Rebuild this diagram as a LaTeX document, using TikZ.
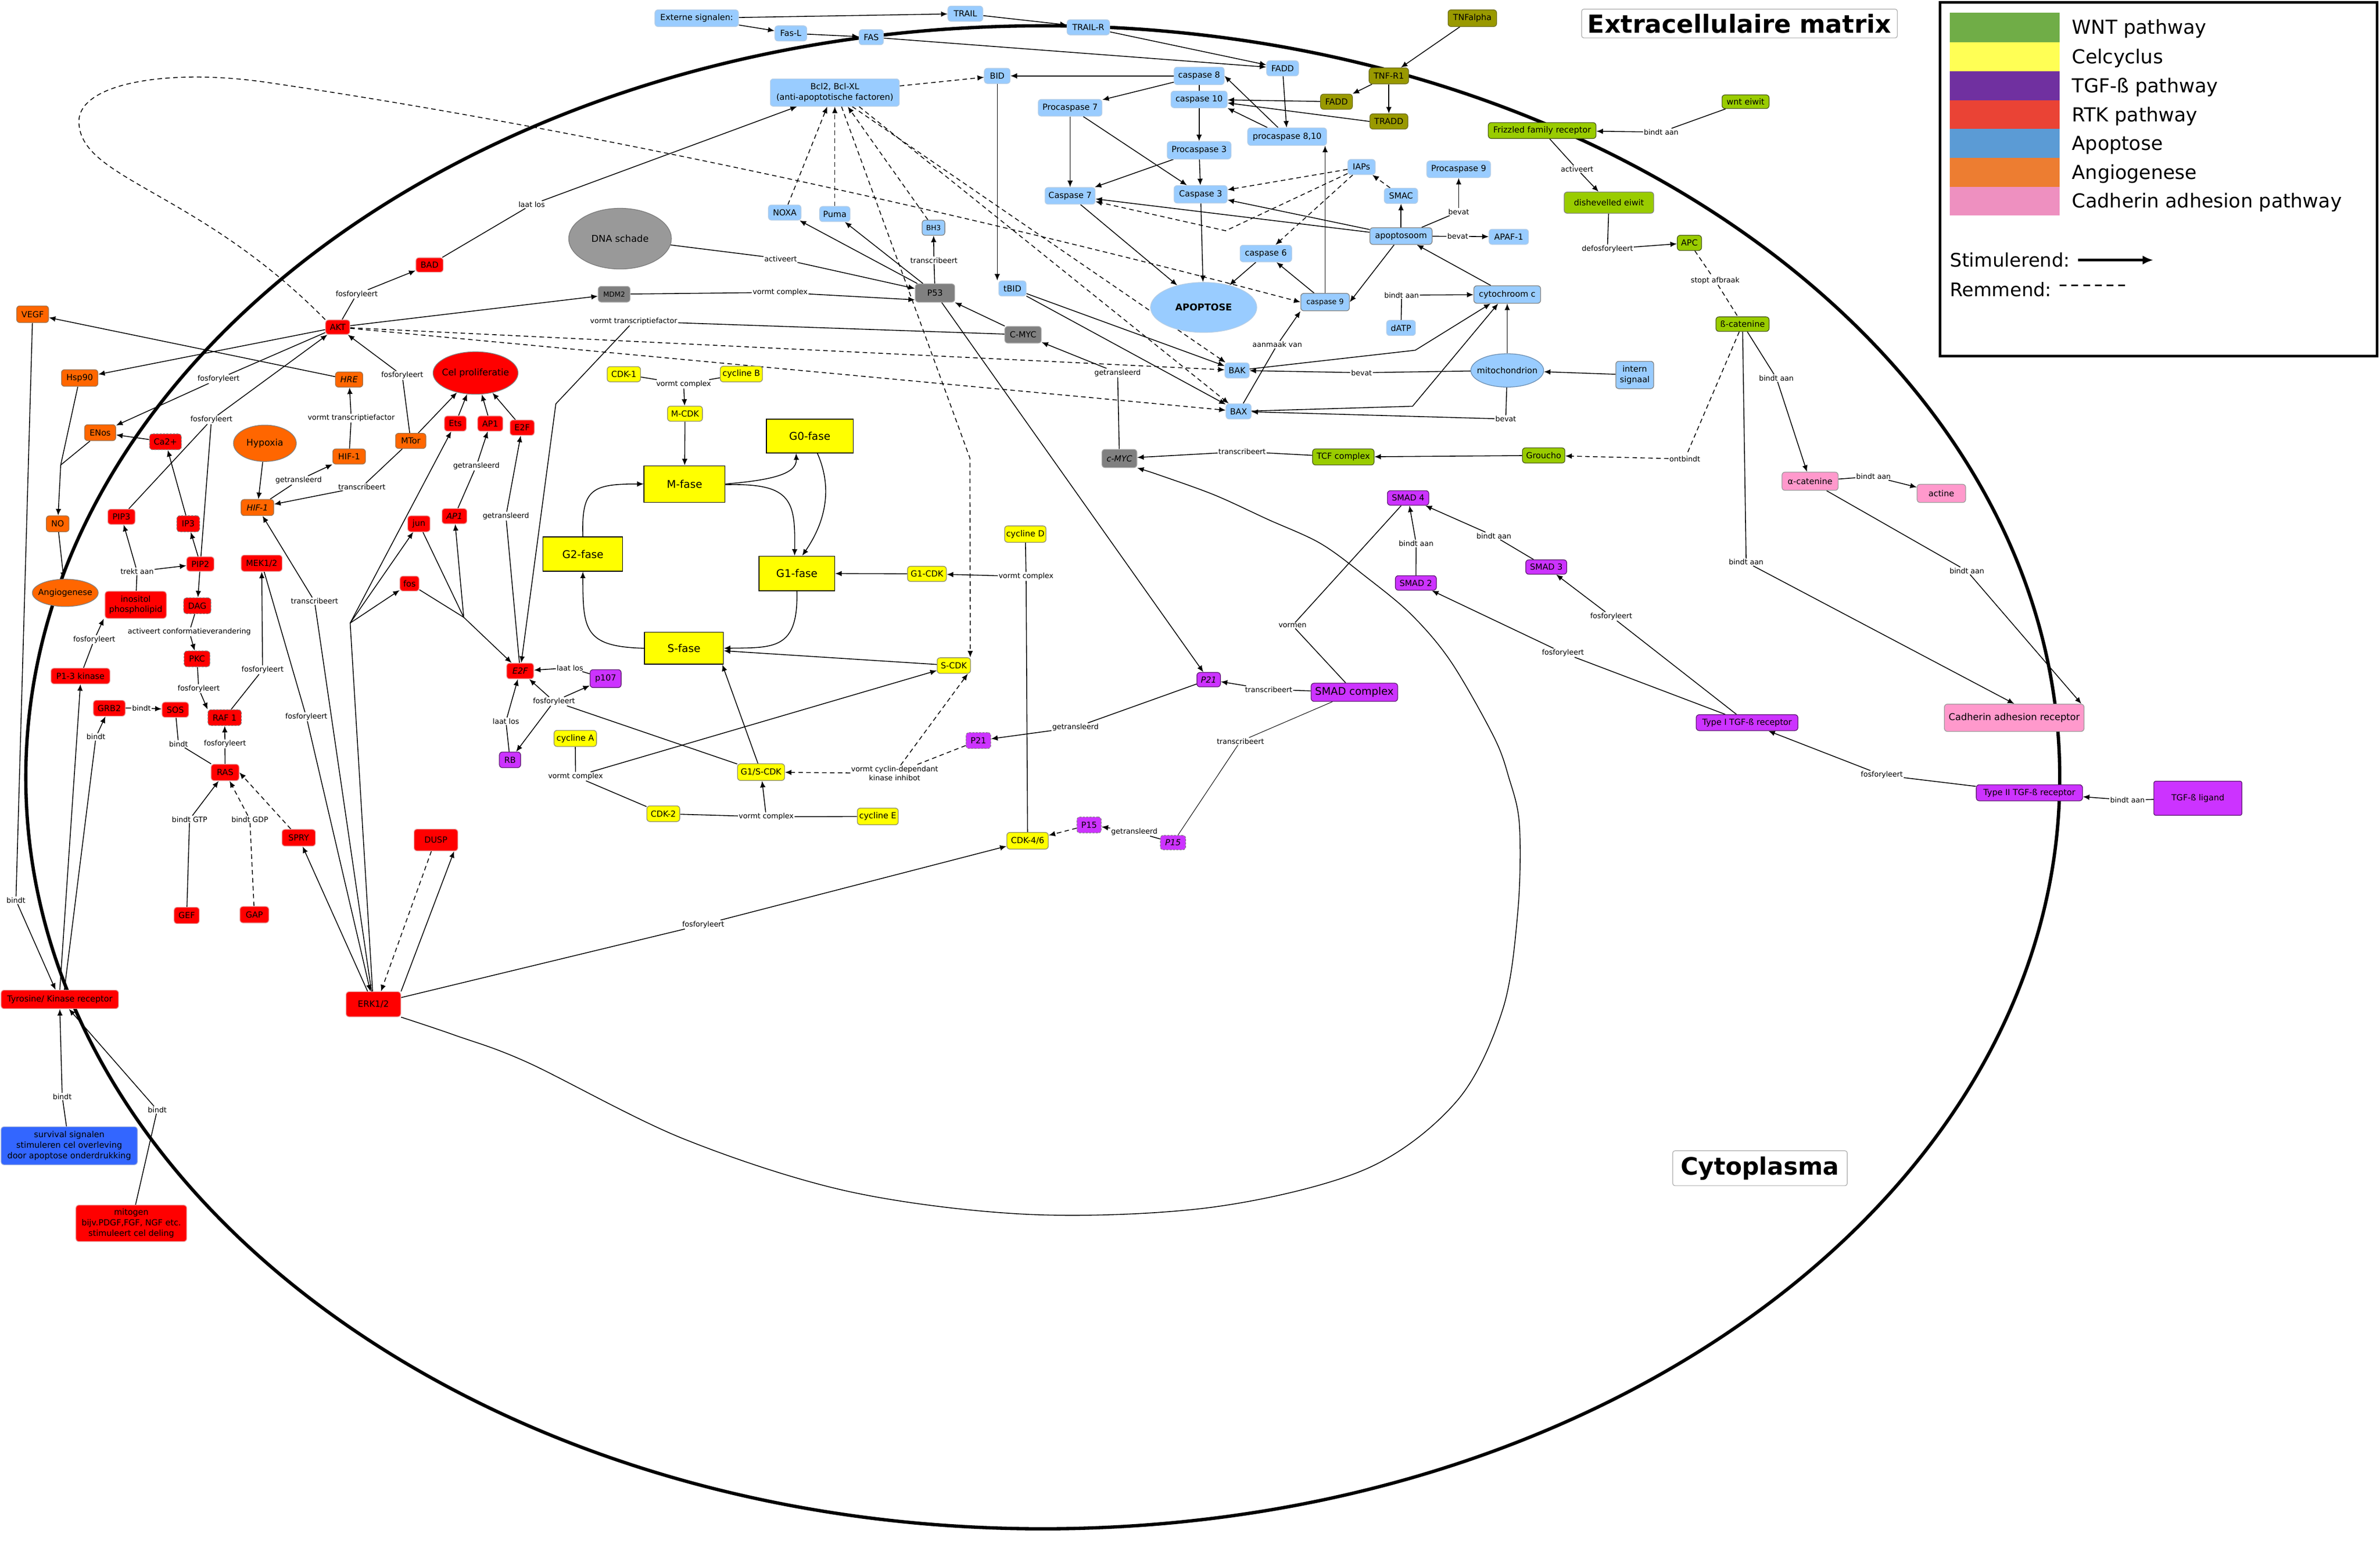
\documentclass[tikz,border=0pt]{standalone}
\usepackage{fontspec}
\setmainfont{DejaVu Sans}
\usetikzlibrary{arrows.meta,shapes.geometric}
\pgfdeclarelayer{bg}
\pgfsetlayers{bg,main}
\definecolor{cRed}{HTML}{FF0000}\definecolor{cRedB}{HTML}{E79A9A}
\definecolor{cOr}{HTML}{FF6600}\definecolor{cOrB}{HTML}{9C7452}
\definecolor{cBl}{HTML}{99CCFF}\definecolor{cBlB}{HTML}{B4CDE6}
\definecolor{cDB}{HTML}{3366FF}\definecolor{cDBB}{HTML}{99AADD}
\definecolor{cYe}{HTML}{FFFF00}\definecolor{cYeB}{HTML}{8C8C6E}
\definecolor{cPu}{HTML}{CC33FF}\definecolor{cPuB}{HTML}{5A1A6E}
\definecolor{cGr}{HTML}{99CC00}\definecolor{cGrB}{HTML}{4A5A1A}
\definecolor{cOl}{HTML}{999900}\definecolor{cOlB}{HTML}{6E6E1E}
\definecolor{cGy}{HTML}{808080}\definecolor{cGyB}{HTML}{A6A6A6}
\definecolor{cPk}{HTML}{FF99CC}\definecolor{cPkB}{HTML}{999999}
\definecolor{cDna}{HTML}{999999}\definecolor{cDnaB}{HTML}{7A7A7A}
\definecolor{cMitoB}{HTML}{6A8CB0}
\definecolor{lWNT}{HTML}{70AD47}\definecolor{lCel}{HTML}{FFFF55}
\definecolor{lTGF}{HTML}{7030A0}\definecolor{lRTK}{HTML}{EA4335}
\definecolor{lApo}{HTML}{5B9BD5}\definecolor{lAng}{HTML}{ED7D31}
\definecolor{lCad}{HTML}{EE90C0}
\newcommand\myfs[2]{\fontsize{#1}{#2}\selectfont}
\tikzset{
 nbase/.style={rounded corners=2pt, inner sep=0.3pt, align=center, line width=0.45pt, font=\myfs{5.5}{6.4}},
 sz/.style 2 args={minimum width=#1, minimum height=#2},
 nR/.style={nbase, fill=cRed, draw=cRedB},
 nO/.style={nbase, fill=cOr, draw=cOrB},
 nB/.style={nbase, fill=cBl, draw=cBlB},
 nDB/.style={nbase, fill=cDB, draw=cDBB},
 nY/.style={nbase, fill=cYe, draw=cYeB},
 nP/.style={nbase, fill=cPu, draw=cPuB},
 nG/.style={nbase, fill=cGr, draw=cGrB},
 nOl/.style={nbase, fill=cOl, draw=cOlB},
 nGy/.style={nbase, fill=cGy, draw=cGyB},
 nPk/.style={nbase, fill=cPk, draw=cPkB},
 nPh/.style={draw=black, fill=cYe, line width=0.5pt, inner sep=0pt, font=\myfs{7}{8}},
 itx/.style={font=\itshape\myfs{5.5}{6.4}},
 dashb/.style={draw=gray, dash pattern=on 1.3pt off 0.9pt},
 ell/.style={ellipse, inner sep=0pt, line width=0.45pt},
 lbl/.style={fill=white, inner sep=0.4pt, font=\myfs{4.8}{5.8}, align=center},
 arr/.style={-{Latex[length=4.3pt,width=3.6pt]}},
 dsh/.style={dash pattern=on 3pt off 2.2pt},
}
\begin{document}
\begin{tikzpicture}[x=1pt,y=-1pt]
\useasboundingbox (0,0) rectangle (1568,1026.9);
% ---------------- apoptosis ----------------
\node[nB, sz={55}{11}] (ext) at (459,12) {Externe signalen:};
\node[nB, sz={21}{10}] (fasl) at (521,22) {Fas-L};
\node[nB, sz={23}{10}] (trail) at (636,9) {TRAIL};
\node[nB, sz={16}{10}] (fas) at (574,24.5) {FAS};
\node[nB, sz={28}{10}] (trailr) at (717,18) {TRAIL-R};
\node[nB, sz={21}{10}] (fadd) at (845,45) {FADD};
\node[nB, sz={17}{10}] (bid) at (657,50) {BID};
\node[nB, sz={33}{11.5}] (cas8) at (790,50) {caspase 8};
\node[nB, sz={85}{18}, font=\myfs{5.5}{7}] (bcl) at (550,61) {Bcl2, Bcl-XL\\(anti-apoptotische factoren)};
\node[nB, sz={37}{11}] (cas10) at (790,65.5) {caspase 10};
\node[nB, sz={42}{11}] (pc7) at (705,71) {Procaspase 7};
\node[nB, sz={52}{11.5}] (pc810) at (848,90) {procaspase 8,10};
\node[nB, sz={42}{11.5}] (pc3) at (790,99) {Procaspase 3};
\node[nB, sz={33}{11}] (c7) at (705,129) {Caspase 7};
\node[nB, sz={35}{11.5}] (c3) at (791,128) {Caspase 3};
\node[nB, sz={21.5}{10}] (noxa) at (517,140) {NOXA};
\node[nB, sz={20}{10}] (puma) at (550,141) {Puma};
\node[nB, sz={15}{10}, draw=gray, font=\myfs{4.7}{5.5}] (bh3) at (615,150) {BH3};
\node[nGy, sz={26}{12}] (p53) at (616,193) {P53};
\node[nB, sz={18}{10}] (tbid) at (667,190) {tBID};
\node[ell, fill=cBl, draw=cBlB, sz={70}{33}, label={[font=\bfseries\myfs{6.2}{7}]center:APOPTOSE}] (apop) at (793,202.5) {};
\node[nB, sz={34}{11}] (cas6) at (834,167) {caspase 6};
\node[nB, sz={32}{11.5}, draw=gray, font=\myfs{4.9}{5.6}] (cas9) at (873,199) {caspase 9};
\node[nB, sz={18}{10}] (iaps) at (897,110) {IAPs};
\node[nB, sz={22}{10}] (smac) at (923,129) {SMAC};
\node[nB, sz={42}{11}] (pc9) at (961,111.5) {Procaspase 9};
\node[nB, sz={41}{11}, draw=gray] (apopt) at (923,155.5) {apoptosoom};
\node[nB, sz={26}{10}] (apaf) at (994,156) {APAF-1};
\node[nB, sz={44}{11.5}, draw=gray] (cytc) at (993,194) {cytochroom c};
\node[nB, sz={19}{10}] (datp) at (923,216) {dATP};
\node[ell, fill=cBl, draw=cMitoB, sz={48}{22}, label={[font=\myfs{5.5}{6.4}]center:mitochondrion}] (mito) at (993,244) {};
\node[nB, sz={25}{18}, draw=gray, font=\myfs{5.5}{7}] (intern) at (1077,247) {intern\\signaal};
\node[nB, sz={16}{10}] (bak) at (815,244) {BAK};
\node[nB, sz={16.5}{10}] (bax) at (816,271) {BAX};
\node[nGy, sz={24}{11}] (cmyc) at (674,220.5) {C-MYC};
\node[nGy, sz={23}{12}, itx] (cmyc2) at (737.5,302) {c-MYC};
\node[nG, sz={40.5}{10.6}] (tcf) at (885,301) {TCF complex};
\node[nG, sz={28}{10}] (grou) at (1017,300) {Groucho};
\node[nOl, sz={26}{10.5}] (tnfr) at (915,50) {TNF-R1};
\node[nOl, sz={21}{10}] (fadd2) at (880.5,67) {FADD};
\node[nOl, sz={25}{10}] (tradd) at (915,80) {TRADD};
\node[nOl, sz={32}{11}] (tnfa) at (970,12) {TNFalpha};
% ---------------- WNT / cadherin / TGF ----------------
\node[nG, sz={31}{9}] (wnt) at (1150,67) {wnt eiwit};
\node[nG, sz={71}{10.5}] (friz) at (1016,86) {Frizzled family receptor};
\node[nG, sz={59}{14}, draw=gray] (dish) at (1060,133.5) {dishevelled eiwit};
\node[nG, sz={16}{10}] (apc) at (1113,160) {APC};
\node[nG, sz={35}{9.6}] (bcat) at (1148,213.5) {ß-catenine};
\node[nPk, sz={37}{12}] (acat) at (1192.5,317) {α-catenine};
\node[nPk, sz={32}{12}] (actine) at (1279,325) {actine};
\node[nPk, sz={92}{18}, font=\myfs{6.2}{7}] (cad) at (1327,472.8) {Cadherin adhesion receptor};
\node[nP, sz={67}{10.5}] (type1) at (1151,476) {Type I TGF-ß receptor};
\node[nP, sz={70}{10.6}] (type2) at (1337,522.2) {Type II TGF-ß receptor};
\node[nP, sz={58}{22.5}, rounded corners=1.2pt] (tgfl) at (1448,525.8) {TGF-ß ligand};
\node[nP, sz={27.3}{9.6}] (smad4) at (927.7,328) {SMAD 4};
\node[nP, sz={27}{9.5}] (smad3) at (1018.7,373.5) {SMAD 3};
\node[nP, sz={27}{9.6}] (smad2) at (932.8,384) {SMAD 2};
\node[nP, sz={57}{12}, font=\myfs{6.9}{7.8}] (smadc) at (892.3,456) {SMAD complex};
\node[nP, sz={15.5}{9.5}, itx] (p21i) at (796.3,447.7) {P21};
\node[nP, dashb, sz={16.3}{10.5}] (p21) at (644.6,487.8) {P21};
\node[nP, dashb, sz={16}{10.5}] (p15) at (717.5,543.4) {P15};
\node[nP, dashb, sz={16.7}{9.5}, itx] (p15i) at (772.8,555) {P15};
% ---------------- cell cycle ----------------
\node[nY, sz={27.3}{11}] (cdk46) at (677,553.8) {CDK-4/6};
\node[nY, sz={27.3}{10.8}] (cycd) at (675.5,351.8) {cycline D};
\node[nY, sz={25.6}{10}] (g1cdk) at (610.7,378) {G1-CDK};
\node[nY, sz={22}{10.3}] (scdk) at (628.4,438.4) {S-CDK};
\node[nY, sz={31}{11}] (g1scdk) at (501.4,508.6) {G1/S-CDK};
\node[nY, sz={21.7}{10.3}] (cdk2) at (437,536) {CDK-2};
\node[nY, sz={27}{11}] (cyce) at (578.3,537.8) {cycline E};
\node[nY, sz={28}{10.6}] (cyca) at (379,486.4) {cycline A};
\node[nP, sz={14}{10.3}] (rb) at (336,500.5) {RB};
\node[nP, sz={20.5}{11.8}] (p107) at (399,447) {p107};
\node[nR, sz={17.8}{10.3}, itx] (e2fi) at (342.7,442) {E2F};
\node[nPh, sz={52}{21}] (sfase) at (450.6,427) {S-fase};
\node[nPh, sz={50}{22.8}] (g1fase) at (525,377.7) {G1-fase};
\node[nPh, sz={53.4}{24}] (mfase) at (451,318.8) {M-fase};
\node[nPh, sz={57.3}{22.3}] (g0fase) at (533.5,287.2) {G0-fase};
\node[nPh, sz={52.5}{22.6}] (g2fase) at (384,365) {G2-fase};
\node[nY, sz={22}{10}] (cdk1) at (411,246.5) {CDK-1};
\node[nY, sz={27.8}{10.3}] (cycb) at (488.4,246.4) {cycline B};
\node[nY, sz={23}{10}] (mcdk) at (451.3,272.5) {M-CDK};
\node[ell, fill=cDna, draw=cDnaB, sz={67.6}{40}, label={[font=\myfs{6.2}{7}]center:DNA schade}] (dna) at (408.5,157.2) {};
\node[nGy, sz={21}{10.3}, font=\myfs{4.6}{5.3}] (mdm2) at (404.6,193.8) {MDM2};
% ---------------- RTK / angiogenesis ----------------
\node[nR, sz={18}{9.5}] (bad) at (283,174.5) {BAD};
\node[nO, sz={21}{11}] (vegf) at (21.5,207) {VEGF};
\node[nR, sz={16}{9.5}] (akt) at (222.5,215.5) {AKT};
\node[nO, sz={24}{11}] (hsp) at (52.5,249) {Hsp90};
\node[nO, sz={18}{10}, itx] (hre) at (230,250) {HRE};
\node[ell, fill=cRed, draw=gray, sz={56}{28}, label={[font=\myfs{6}{7}]center:Cel proliferatie}] (celp) at (313.3,245.7) {};
\node[nO, sz={20.5}{10.5}] (enos) at (66,285) {ENos};
\node[nR, dashb, sz={21}{10.4}] (ca) at (109,291) {Ca2+};
\node[ell, fill=cOr, draw=gray, sz={41.4}{24}, label={[font=\myfs{6}{7}]center:Hypoxia}] (hyp) at (174.5,292) {};
\node[nO, sz={21.5}{10}] (hif) at (230,300.7) {HIF-1};
\node[nO, sz={20}{10}] (mtor) at (270.6,290.4) {MTor};
\node[nR, sz={14.4}{10}] (ets) at (300,279) {Ets};
\node[nR, sz={16.6}{10}] (ap1) at (323,279) {AP1};
\node[nR, sz={16}{10}] (e2f) at (344,281.7) {E2F};
\node[nO, sz={15}{10.5}] (no) at (38,345) {NO};
\node[nR, sz={18}{10}] (pip3) at (80,340.4) {PIP3};
\node[nR, dashb, sz={15}{10.6}] (ip3) at (124,345) {IP3};
\node[nO, sz={21.5}{10.6}, itx] (hifi) at (169.6,334.3) {HIF-1};
\node[nR, sz={14.7}{10.5}] (jun) at (276,345) {jun};
\node[nR, sz={16.4}{10}, itx] (ap1i) at (299.4,340) {AP1};
\node[nR, sz={18}{9.5}] (pip2) at (132,371.5) {PIP2};
\node[nR, sz={27}{10.7}] (mek) at (172.4,371) {MEK1/2};
\node[ell, fill=cOr, draw=gray, sz={43.4}{18}, label={[font=\myfs{5.5}{6.4}]center:Angiogenese}] (angio) at (43,390.5) {};
\node[nR, sz={40.4}{17.8}, font=\myfs{5.5}{6.8}] (inos) at (89.4,398.4) {inositol\\phospholipid};
\node[nR, sz={12.6}{9.8}] (fos) at (269.8,384.4) {fos};
\node[nR, dashb, sz={18}{10.5}] (dag) at (130,399) {DAG};
\node[nR, dashb, sz={17}{10.4}] (pkc) at (129.8,434) {PKC};
\node[nR, sz={38.8}{10.3}] (pi3k) at (53,445.3) {P1-3 kinase};
\node[nR, sz={21}{10.4}] (grb) at (72,466.5) {GRB2};
\node[nR, sz={17.5}{10}] (sos) at (115.5,467.5) {SOS};
\node[nR, dashb, sz={22}{10.4}] (raf) at (148,472.7) {RAF 1};
\node[nR, sz={18.4}{10.8}] (ras) at (148.3,508.8) {RAS};
\node[nR, sz={16.6}{10.8}] (gef) at (123,603) {GEF};
\node[nR, sz={19}{10.8}] (gap) at (167.6,602.5) {GAP};
\node[nR, sz={22}{11}] (spry) at (196.8,551.8) {SPRY};
\node[nR, sz={28.8}{14.3}] (dusp) at (287.2,553.3) {DUSP};
\node[nR, sz={77.4}{12.2}] (tyr) at (39.4,658.3) {Tyrosine/ Kinase receptor};
\node[nR, sz={36}{16.5}, font=\myfs{5.7}{6.5}] (erk) at (246,661.5) {ERK1/2};
\node[nDB, sz={89.8}{25}, font=\myfs{5.5}{7}] (surv) at (45.6,754.7) {survival signalen\\stimuleren cel overleving\\door apoptose onderdrukking};
\node[nR, sz={73}{24}, font=\myfs{5.5}{7}] (mitog) at (86.5,805.8) {mitogen\\bijv.PDGF,FGF, NGF etc.\\stimuleert cel deling};
\coordinate (J0) at (40,306.3);
\coordinate (J1) at (230.7,410.4);
\coordinate (J2) at (305.5,406.6);
% ---------------- link labels ----------------
\node[lbl] (Lakb) at (235,193.8) {fosforyleert};
\node[lbl] (Lbad) at (350.3,134.8) {laat los};
\node[lbl] (Lake) at (144,249.6) {fosforyleert};
\node[lbl] (Lpip) at (139.3,276.5) {fosforyleert};
\node[lbl] (Lmta) at (265,247.3) {fosforyleert};
\node[lbl] (Lhhre) at (231.4,275.4) {vormt transcriptiefactor};
\node[lbl] (Lhget) at (196.7,316.4) {getransleerd};
\node[lbl] (Lmth) at (238.4,320.7) {transcribeert};
\node[lbl] (Lerh) at (207.2,396) {transcribeert};
\node[lbl] (Lapg) at (313.8,307) {getransleerd};
\node[lbl] (Le2g) at (333.3,340) {getransleerd};
\node[lbl] (Ltrk) at (90.3,376.4) {trekt aan};
\node[lbl] (Lpi3) at (62.1,421.3) {fosforyleert};
\node[lbl] (Ldag) at (124.7,416.2) {activeert conformatieverandering};
\node[lbl] (Lpkc) at (130.9,453.6) {fosforyleert};
\node[lbl] (Lraf) at (173,441.2) {fosforyleert};
\node[lbl] (Lmek) at (201.8,472.1) {fosforyleert};
\node[lbl] (Lgs) at (93.2,466.3) {bindt};
\node[lbl] (Ltg) at (63.2,485.4) {bindt};
\node[lbl] (Lsr) at (117.6,490) {bindt};
\node[lbl] (Lrr) at (148.2,490) {fosforyleert};
\node[lbl] (Lgtp) at (124.9,539.7) {bindt GTP};
\node[lbl] (Lgdp) at (164.6,539.7) {bindt GDP};
\node[lbl] (Lveg) at (10.5,593) {bindt};
\node[lbl] (Lsur) at (41,722.3) {bindt};
\node[lbl] (Lmit) at (103.6,731.1) {bindt};
\node[lbl] (Lerc) at (463.3,609) {fosforyleert};
\node[lbl] (Ldna) at (514.3,170.4) {activeert};
\node[lbl] (Lmdm) at (514,192.6) {vormt complex};
\node[lbl] (Lbh3) at (615.3,171.4) {transcribeert};
\node[lbl] (Lctf) at (417.5,211.6) {vormt transcriptiefactor};
\node[lbl] (Lcdk1) at (450.4,253) {vormt complex};
\node[lbl] (Lcycd) at (676,379.7) {vormt complex};
\node[lbl] (Lcyca) at (379.2,511.4) {vormt complex};
\node[lbl] (Lcyce) at (504.8,538) {vormt complex};
\node[lbl] (Lg1s) at (365,462) {fosforyleert};
\node[lbl] (Lp107) at (375.5,439.9) {laat los};
\node[lbl] (Lrb) at (333.3,475.1) {laat los};
\node[lbl] (Linh) at (589.4,509.4) {vormt cyclin-dependant\\kinase inhibot};
\node[lbl] (Lp21g) at (708.5,479.1) {getransleerd};
\node[lbl] (Lsp21) at (835.8,454.2) {transcribeert};
\node[lbl] (Lsp15) at (817.2,488.3) {transcribeert};
\node[lbl] (Lp15g) at (747.3,547.8) {getransleerd};
\node[lbl] (Lvor) at (851.5,412) {vormen};
\node[lbl] (Ls2) at (933,358) {bindt aan};
\node[lbl] (Ls3) at (984.2,353) {bindt aan};
\node[lbl] (Lt1s2) at (1029.7,430) {fosforyleert};
\node[lbl] (Lt1s3) at (1061.5,406) {fosforyleert};
\node[lbl] (Lt2) at (1239.8,510.5) {fosforyleert};
\node[lbl] (Ltgf) at (1401.6,527) {bindt aan};
\node[lbl] (Lbcad) at (1150.4,370.3) {bindt aan};
\node[lbl] (Laact) at (1234.3,313.8) {bindt aan};
\node[lbl] (Lacad) at (1295.8,376) {bindt aan};
\node[lbl] (Lbac) at (1170.3,249) {bindt aan};
\node[lbl] (Lont) at (1110,302.3) {ontbindt};
\node[lbl] (Lstop) at (1130,184.8) {stopt afbraak};
\node[lbl] (Ldef) at (1059,164) {defosforyleert};
\node[lbl] (Lact) at (1039,111.4) {activeert};
\node[lbl] (Lwnt) at (1094.4,87) {bindt aan};
\node[lbl] (Ltcf) at (818.3,297.5) {transcribeert};
\node[lbl] (Lcmg) at (736.3,245.6) {getransleerd};
\node[lbl] (Lbbak) at (897,245.5) {bevat};
\node[lbl] (Lbbax) at (992,276) {bevat};
\node[lbl] (Laan) at (841.5,227) {aanmaak van};
\node[lbl] (Ldatp) at (923.4,194.4) {bindt aan};
\node[lbl] (Lapaf) at (960.4,155.7) {bevat};
\node[lbl] (Lpc9) at (961,139.5) {bevat};
% ---------------- titles and legend ----------------
\node[draw=gray!70, fill=white, rounded corners=1.5pt, inner sep=0pt, sz={208}{19}, font=\bfseries\myfs{16.4}{18}] (ecm) at (1146,15.5) {Extracellulaire matrix};
\node[draw=gray!70, fill=white, rounded corners=1.5pt, inner sep=0pt, sz={115}{23}, font=\bfseries\myfs{15.8}{18}] (cyto) at (1159.5,769.5) {Cytoplasma};
\draw[line width=1.7pt] (1278,1.5) rectangle (1566,234.5);
\fill[lWNT] (1284.6,8.4) rectangle (1357,27.7);
\fill[lCel] (1284.6,27.7) rectangle (1357,47);
\fill[lTGF] (1284.6,47) rectangle (1357,66);
\fill[lRTK] (1284.6,66) rectangle (1357,85);
\fill[lApo] (1284.6,85) rectangle (1357,104);
\fill[lAng] (1284.6,104) rectangle (1357,123);
\fill[lCad] (1284.6,123) rectangle (1357,142);
\begin{scope}[every node/.style={anchor=west, inner sep=0pt, font=\myfs{12.7}{14}}]
\node (lg1) at (1365,19) {WNT pathway};
\node (lg2) at (1365,38.3) {Celcyclus};
\node (lg3) at (1365,57.5) {TGF-ß pathway};
\node (lg4) at (1365,76.5) {RTK pathway};
\node (lg5) at (1365,95.5) {Apoptose};
\node (lg6) at (1365,114.5) {Angiogenese};
\node (lg7) at (1365,133.5) {Cadherin adhesion pathway};
\node[font=\myfs{12.3}{14}] (stim) at (1284.6,171.3) {Stimulerend:};
\node[font=\myfs{12.3}{14}] (remm) at (1284.6,190.6) {Remmend:};
\end{scope}
\coordinate (stA) at (1369,171.3);
\coordinate (stB) at (1418.6,171.3);
\coordinate (reA) at (1357,188);
\coordinate (reB) at (1401.4,188);
\draw[line width=1.7pt, -{Latex[length=7pt,width=6pt]}] (stA) -- (stB);
\draw[line width=1.3pt, dash pattern=on 4.5pt off 3.2pt] (reA) -- (reB);
% ---------------- connectors ----------------
\begin{pgfonlayer}{bg}
\fill[white] (0,0) rectangle (1568,1026.9);
\draw[line width=2.2pt] (687,512) ellipse [x radius=670, y radius=495];
\begin{scope}[line width=0.55pt]
% apoptosis
\draw[arr] (ext) -- (trail);
\draw[arr] (ext) -- (fasl);
\draw[arr] (fasl) -- (fas);
\draw[arr] (trail) -- (trailr);
\draw[arr] (trailr) -- (fadd);
\draw[arr] (fas) -- (fadd);
\draw[arr] (fadd) -- (pc810);
\draw[arr] (cas8) -- (bid);
\draw[arr] (cas8) -- (pc7);
\draw[arr] (cas8) -- (pc3);
\draw[arr] ([xshift=-6pt]pc810.north) -- (cas8.east);
\draw[arr] ([xshift=-13pt]pc810.north) -- (cas10.south east);
\draw[arr] (fadd2) -- (cas10);
\draw[arr] (tradd.west) -- ([yshift=-2.3pt]cas10.east);
\draw[arr] (tnfr) -- (fadd2);
\draw[arr] (tnfr) -- (tradd);
\draw[arr] (tnfa) -- (tnfr);
\draw[arr] (pc7) -- (c7);
\draw[arr] (pc7) -- (c3);
\draw[arr] (pc3) -- (c3);
\draw[arr] (pc3) -- (c7);
\draw[dsh,arr] (iaps) -- (c3);
\draw[dsh,arr] (iaps) -- (807.5,152) -- (c7);
\draw[dsh,arr] (iaps) -- (cas6);
\draw[dsh,arr] (smac) -- (iaps);
\draw[arr] (apopt) -- (smac);
\draw[arr] (apopt) -- (c7);
\draw[arr] (apopt) -- (c3);
\draw (apopt) -- (Lapaf); \draw[arr] (Lapaf) -- (apaf);
\draw (apopt) -- (Lpc9); \draw[arr] (Lpc9) -- (pc9);
\draw[arr] ([xshift=-4.5pt]apopt.south) -- (cas9.east);
\draw[arr] (cytc) -- (apopt);
\draw (datp) -- (Ldatp); \draw[arr] (Ldatp) -- (cytc);
\draw[arr] (mito) -- (cytc);
\draw[arr] (intern) -- (mito);
\draw (mito) -- (Lbbak); \draw[arr] (Lbbak) -- (bak);
\draw (mito) -- (Lbbax); \draw[arr] (Lbbax) -- (bax);
\draw[arr] (bak) -- (932.4,230.7) -- ([xshift=-11pt]cytc.south);
\draw[arr] (bax) -- (930.6,267.6) -- ([xshift=-6pt]cytc.south);
\draw (bax) -- (Laan); \draw[arr] (Laan) -- (cas9.south west);
\draw[arr] (cas9) -- (cas9 |- pc810.south);
\draw[arr] (cas9) -- (cas6);
\draw[arr] (cas6) -- (apop);
\draw[arr] (c7) -- (apop);
\draw[arr] (c3) -- (apop);
\draw[arr] (tbid) -- (bak);
\draw[arr] (tbid) -- (bax);
\draw[arr] (bid) -- (bid |- tbid.north);
\draw[dsh,arr] (bcl) -- (bid);
\draw[dsh,arr] (noxa) -- ([xshift=-5pt]bcl.south);
\draw[dsh,arr] (puma) -- (bcl.south);
\draw[dsh,arr] (bh3) -- ([xshift=8.5pt]bcl.south);
\draw[dsh,arr] ([xshift=4.4pt]bcl.south) -- (639,301.8) -- ([xshift=-0.4pt]scdk.north east);
\draw[dsh,arr] ([xshift=11.5pt]bcl.south) -- (bak);
\draw[dsh,arr] ([xshift=16pt]bcl.south) -- (bax);
\draw[dsh,arr] (akt) -- (bak);
\draw[dsh,arr] (akt) -- (bax);
\draw[dsh,arr] (akt.north west) .. controls (130,125) and (52,118) .. (52,80) .. controls (52,55) and (110,45) .. (174,54) .. controls (400,87) and (657,146) .. (cas9.west);
\draw[arr] (p53) -- (noxa);
\draw[arr] (p53) -- (puma);
\draw (p53) -- (Lbh3); \draw[arr] (Lbh3) -- (bh3);
\draw (dna) -- (Ldna); \draw[arr] (Ldna) -- (p53);
\draw (mdm2) -- (Lmdm); \draw[arr] (Lmdm) -- ([yshift=-4.5pt]p53.west);
\draw[arr] (akt) -- (mdm2);
\draw[arr] (cmyc) -- (p53);
\draw (cmyc) -- (Lctf); \draw[arr] (Lctf) -- (366.2,266) -- (e2fi);
\draw[arr] (p53) -- (p21i);
\draw (e2fi) -- (Le2g); \draw[arr] (Le2g) -- (e2f);
\draw (cmyc2) -- (Lcmg); \draw[arr] (Lcmg) -- (cmyc);
\draw (tcf) -- (Ltcf); \draw[arr] (Ltcf) -- (cmyc2);
\draw[arr] (grou) -- (tcf);
% WNT, cadherin, TGF
\draw[dsh] (bcat) -- (Lont); \draw[dsh,arr] (Lont) -- (grou);
\draw[dsh] (apc) -- (Lstop) -- (bcat);
\draw (dish) -- (Ldef); \draw[arr] (Ldef) -- (apc);
\draw (friz) -- (Lact); \draw[arr] (Lact) -- (dish);
\draw (wnt) -- (Lwnt); \draw[arr] (Lwnt) -- (friz);
\draw (bcat) -- (Lbac); \draw[arr] (Lbac) -- (acat);
\draw (bcat) -- (Lbcad); \draw[arr] (Lbcad) -- (cad.north);
\draw (acat) -- (Laact); \draw[arr] (Laact) -- (actine);
\draw (acat) -- (Lacad); \draw[arr] (Lacad) -- ([xshift=-2pt]cad.north east);
\draw (tgfl) -- (Ltgf); \draw[arr] (Ltgf) -- (type2);
\draw (type2) -- (Lt2); \draw[arr] (Lt2) -- (type1);
\draw (type1) -- (Lt1s2); \draw[arr] (Lt1s2) -- (smad2);
\draw (type1) -- (Lt1s3); \draw[arr] (Lt1s3) -- (smad3);
\draw (smad2) -- (Ls2); \draw[arr] (Ls2) -- (smad4);
\draw (smad3) -- (Ls3); \draw[arr] (Ls3) -- (smad4);
\draw (smadc) -- (Lvor) -- (smad4);
\draw (smadc) -- (Lsp21); \draw[arr] (Lsp21) -- (p21i);
\draw[line width=0.35pt] (smadc) -- (Lsp15) -- (p15i);
\draw (p15i) -- (Lp15g); \draw[arr] (Lp15g) -- (p15);
\draw[dsh,arr] (p15) -- (cdk46);
\draw (p21i) -- (Lp21g); \draw[arr] (Lp21g) -- (p21);
% cell cycle
\draw[dsh] (p21) -- (Linh);
\draw[dsh,arr] (Linh) -- ([xshift=-2pt]scdk.south east);
\draw[dsh,arr] (Linh) -- (g1scdk);
\draw (cycd) -- (Lcycd); \draw[arr] (Lcycd) -- (g1cdk); \draw (Lcycd) -- (cdk46);
\draw[arr] (g1cdk) -- (g1fase);
\draw (cdk1) -- (Lcdk1); \draw (cycb) -- (Lcdk1); \draw[arr] (Lcdk1) -- (mcdk);
\draw[arr] (mcdk) -- (mfase);
\draw[arr] (mfase.east) .. controls (505,316.5) and (525,313) .. ([xshift=-9pt]g0fase.south);
\draw[arr] ([yshift=-0.5pt]mfase.east) .. controls (522,318) and (524,330) .. ([xshift=-1.5pt]g1fase.north);
\draw[arr] ([xshift=5pt]g0fase.south) .. controls (548,320) and (545,342) .. ([xshift=3.5pt]g1fase.north);
\draw[arr] (g2fase.north) .. controls (383,322) and (390,318.8) .. (mfase.west);
\draw[arr] (g1fase.south) .. controls (526,428) and (510,426.6) .. (sfase.east);
\draw[arr] (sfase.west) .. controls (385,426) and (384,415) .. (g2fase.south);
\draw[arr] (scdk) -- (sfase);
\draw[arr] (g1scdk) -- ([xshift=-1pt]sfase.south east);
\draw (cyca) -- (Lcyca); \draw (cdk2) -- (Lcyca); \draw[arr] (Lcyca) -- (scdk);
\draw (cdk2) -- (Lcyce); \draw (cyce) -- (Lcyce); \draw[arr] (Lcyce) -- (g1scdk);
\draw (g1scdk) -- (Lg1s); \draw[arr] (Lg1s) -- (e2fi); \draw[arr] (Lg1s) -- (p107); \draw[arr] (Lg1s) -- (rb);
\draw (p107) -- (Lp107); \draw[arr] (Lp107) -- (e2fi);
\draw (rb) -- (Lrb); \draw[arr] (Lrb) -- (e2fi);
% RTK
\draw (akt) -- (Lakb); \draw[arr] (Lakb) -- (bad);
\draw (bad) -- (Lbad); \draw[arr] (Lbad) -- (bcl);
\draw (akt) -- (Lake); \draw[arr] (Lake) -- (enos);
\draw (pip3) -- (Lpip); \draw (pip2) -- (Lpip); \draw[arr] (Lpip) -- (akt);
\draw (mtor) -- (Lmta); \draw[arr] (Lmta) -- (akt);
\draw[arr] (akt) -- (hsp);
\draw[arr] (hre) -- (vegf);
\draw (hif) -- (Lhhre); \draw[arr] (Lhhre) -- (hre);
\draw (hifi) -- (Lhget); \draw[arr] (Lhget) -- (hif);
\draw (mtor) -- (Lmth); \draw[arr] (Lmth) -- (hifi);
\draw (erk) -- (Lerh); \draw[arr] (Lerh) -- (hifi);
\draw[arr] (hyp) -- (hifi);
\draw[arr] (mtor) -- (celp);
\draw[arr] (ets) -- (celp);
\draw[arr] (ap1) -- (celp);
\draw[arr] (e2f) -- (celp);
\draw (ap1i) -- (Lapg); \draw[arr] (Lapg) -- (ap1);
\draw (enos) -- (J0); \draw (hsp) -- (J0); \draw[arr] (J0) -- (no);
\draw[arr] (no) -- (angio);
\draw[arr] (ca) -- (enos);
\draw[arr] (ip3) -- (ca);
\draw[arr] (pip2) -- (ip3);
\draw[arr] (pip2) -- (dag);
\draw (inos) -- (Ltrk); \draw[arr] (Ltrk) -- (pip2); \draw[arr] (Ltrk) -- (pip3);
\draw (pi3k) -- (Lpi3); \draw[arr] (Lpi3) -- ([xshift=-21pt]inos.south);
\draw (dag) -- (Ldag); \draw[arr] (Ldag) -- (pkc);
\draw (pkc) -- (Lpkc); \draw[arr] (Lpkc) -- (raf.north west);
\draw (raf) -- (Lraf); \draw[arr] (Lraf) -- (mek);
\draw (mek) -- (Lmek); \draw[arr] (Lmek) -- (erk);
\draw (grb) -- (Lgs); \draw[arr] (Lgs) -- (sos);
\draw ([xshift=3pt]tyr.north) -- (Ltg); \draw[arr] (Ltg) -- (grb);
\draw[arr] (tyr.north) -- (pi3k.south);
\draw (sos) -- (Lsr) -- (ras);
\draw (ras) -- (Lrr); \draw[arr] (Lrr) -- (raf);
\draw (gef) -- (Lgtp); \draw[arr] (Lgtp) -- (ras);
\draw[dsh] (gap) -- (Lgdp); \draw[dsh,arr] (Lgdp) -- (ras);
\draw[dsh,arr] (spry) -- (ras.east);
\draw (vegf) -- (Lveg); \draw[arr] (Lveg) -- (tyr);
\draw (surv) -- (Lsur); \draw[arr] (Lsur) -- (tyr.south);
\draw (mitog) -- (Lmit); \draw[arr] (Lmit) -- ([xshift=6pt]tyr.south);
\draw[arr] (erk) -- (spry);
\draw[arr] (erk.north east) -- ([xshift=12pt]dusp.south);
\draw[dsh,arr] ([xshift=-3pt]dusp.south) -- ([xshift=5pt]erk.north);
\draw (erk) -- (J1); \draw[arr] (J1) -- (ets); \draw[arr] (J1) -- (jun); \draw[arr] (J1) -- (fos);
\draw (fos) -- (J2); \draw (jun) -- (J2); \draw[arr] (J2) -- (ap1i); \draw[arr] (J2) -- (e2fi);
\draw (erk) -- (Lerc); \draw[arr] (Lerc) -- (cdk46);
\draw[arr] plot[smooth, tension=0.55] coordinates {(erk.south east) (300,682) (348,700) (450,750) (560,785) (680,800) (800,795) (900,770) (960,725) (990,665) (1000,600) (1001,543) (994,512) (984,485) (956,436) (930,405) (900,380) (870,358) (835,342) (800,326) (764,313) (cmyc2.south east)};
\end{scope}
\end{pgfonlayer}
\end{tikzpicture}
\end{document}
